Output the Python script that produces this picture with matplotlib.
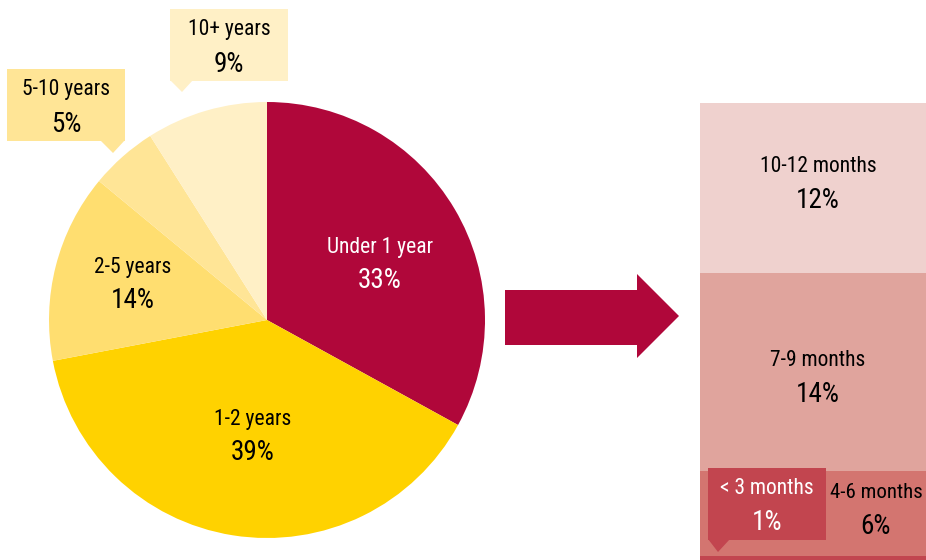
import numpy as np
import matplotlib
matplotlib.use("Agg")
import matplotlib.pyplot as plt
from matplotlib.patches import Rectangle, Polygon
from matplotlib import font_manager

# data
pie_labels = ["Under 1 year", "1-2 years", "2-5 years", "5-10 years", "10+ years"]
pie_values = [33, 39, 14, 5, 9]
pie_colors = ["#B0073A", "#FFD200", "#FFDE70", "#FFE596", "#FFF0C6"]

bar_labels = ["< 3 months", "4-6 months", "7-9 months", "10-12 months"]
bar_values = [1, 6, 14, 12]
bar_colors = ["#C2454F", "#D37570", "#E0A49D", "#EFD1CE"]

# font: pick a narrow family if there is one
names = {f.name for f in font_manager.fontManager.ttflist}
fam = "DejaVu Sans"
for n in ["Liberation Sans Narrow", "Roboto Condensed", "Open Sans Condensed"]:
    if n in names:
        fam = n
        break
plt.rcParams["font.family"] = [fam, "DejaVu Sans"]

W, H = 926, 560
fig = plt.figure(figsize=(W / 100, H / 100), dpi=100)
ax = fig.add_axes([0, 0, 1, 1])
ax.set_xlim(0, W)
ax.set_ylim(0, H)
ax.axis("off")


def py(y):
    # pixel row -> data y
    return H - y


LBL = 15.5
PCT = 19.5
DY = 17


def pair(a, x, y, label, pct, col="black", lsize=LBL, z=4):
    a.text(x, y + DY, label, ha="center", va="center", fontsize=lsize, color=col, zorder=z)
    a.text(x, y - DY, pct, ha="center", va="center", fontsize=PCT, color=col, zorder=z)


# pie
cx, cy, r = 267, py(320), 218
wedges, _ = ax.pie(pie_values, colors=pie_colors, startangle=90, counterclock=False,
                   center=(cx, cy), radius=r, wedgeprops=dict(linewidth=0))
ax.set_xlim(0, W)
ax.set_ylim(0, H)

# label centres inside the pie (pixels)
inside = {0: ((380, 264), "white"), 1: ((253, 436), "black"), 2: ((133, 284), "black")}
for i, ((x, y), col) in inside.items():
    pair(ax, x, py(y), pie_labels[i], f"{pie_values[i]}%", col)


def callout(a, x0, y0, x1, y1, tri, color, label, value, tcol="black"):
    a.add_patch(Rectangle((x0, py(y1)), x1 - x0, y1 - y0, facecolor=color, lw=0, zorder=3))
    a.add_patch(Polygon([(tx, py(ty)) for tx, ty in tri], closed=True, facecolor=color, lw=0, zorder=3))
    pair(a, (x0 + x1) / 2, py((y0 + y1) / 2 + 2), label, f"{value}%", tcol)


callout(ax, 170, 9, 288, 81, [(170, 80), (193, 80), (182, 92)], pie_colors[4], pie_labels[4], pie_values[4])
callout(ax, 7, 69, 125, 141, [(100, 140), (125, 140), (113, 153)], pie_colors[3], pie_labels[3], pie_values[3])

# arrow
arrow = [(505, 290), (637, 290), (637, 274), (679, 316), (637, 358), (637, 345), (505, 345)]
ax.add_patch(Polygon([(x, py(y)) for x, y in arrow], closed=True, facecolor=pie_colors[0], lw=0))

# stacked bar
top_px, bot_px = 103, 560
px_per = 14.15
bax = fig.add_axes([700 / W, 0, 1 - 700 / W, (bot_px - top_px) / H])
total = sum(bar_values)
bax.set_ylim(total - (bot_px - top_px) / px_per, total)
bax.set_xlim(-0.5, 0.5)
bax.axis("off")
bottoms = np.concatenate([[0], np.cumsum(bar_values)[:-1]])
bax.bar(0, bar_values, bottom=bottoms, width=1.0, color=bar_colors, linewidth=0)

# texts over the bar, on a pixel overlay
ax2 = fig.add_axes([0, 0, 1, 1], facecolor="none")
ax2.set_xlim(0, W)
ax2.set_ylim(0, H)
ax2.axis("off")
pair(ax2, 818, py(184), bar_labels[3], f"{bar_values[3]}%")
pair(ax2, 818, py(377), bar_labels[2], f"{bar_values[2]}%")
pair(ax2, 876, py(510), bar_labels[1], f"{bar_values[1]}%", lsize=15)
callout(ax2, 708, 468, 826, 540, [(708, 539), (730, 539), (718, 552)], bar_colors[0],
        bar_labels[0], bar_values[0], "white")

fig.savefig("out.png", dpi=100)
